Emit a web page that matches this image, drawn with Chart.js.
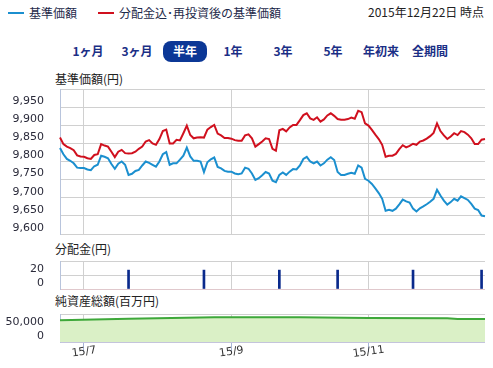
<!DOCTYPE html>
<html>
<head>
<meta charset="utf-8">
<script src="https://cdn.jsdelivr.net/npm/chart.js@4.4.0/dist/chart.umd.min.js"></script>
<style>
  body { margin: 0; width: 493px; height: 368px; background: #fff; position: relative; overflow: hidden;
         font-family: "Noto Sans CJK JP", sans-serif; font-size: 12px; }
  .t { position: absolute; white-space: nowrap; line-height: 16px; }
  .btn { position: absolute; top: 43px; width: 50px; text-align: center; font-weight: bold; color: #1b2f86; line-height: 16px; }
  .pill { position: absolute; left: 163px; top: 41px; width: 44px; height: 21px; border-radius: 8px; background: #0b3796; }
  canvas { position: absolute; left: 0; }
</style>
</head>
<body>
<div style="position:absolute;left:8px;top:12px;width:16px;height:2px;background:#1b8fcf"></div>
<div class="t" style="left:29px;top:5px;color:#1e2a4a">基準価額</div>
<div style="position:absolute;left:98px;top:12px;width:16px;height:2px;background:#d0101e"></div>
<div class="t" style="left:119px;top:5px;color:#1e2a4a">分配金込･再投資後の基準価額</div>
<div class="t" style="right:9px;top:4px;color:#222">2015年12月22日 時点</div>

<div class="pill"></div>
<div class="btn" style="left:63px">1ヶ月</div>
<div class="btn" style="left:112px">3ヶ月</div>
<div class="btn" style="left:160px;color:#fff">半年</div>
<div class="btn" style="left:208px">1年</div>
<div class="btn" style="left:258px">3年</div>
<div class="btn" style="left:308px">5年</div>
<div class="btn" style="left:356px">年初来</div>
<div class="btn" style="left:405px">全期間</div>

<div class="t" style="left:55px;top:71px;color:#222">基準価額(円)</div>
<div class="t" style="left:55px;top:241px;color:#222">分配金(円)</div>
<div class="t" style="left:55px;top:293px;color:#222">純資産総額(百万円)</div>

<canvas id="navChart" width="493" height="152" style="top:84px"></canvas>
<canvas id="distChart" width="493" height="36" style="top:256px"></canvas>
<canvas id="assetChart" width="493" height="59" style="top:309px"></canvas>

<script>
// 営業日(2015/6/22〜12/22)
const holidays = ['2015-07-20', '2015-09-21', '2015-09-22', '2015-09-23', '2015-10-12', '2015-11-03', '2015-11-23'];
const dates = [];
for (let d = new Date(Date.UTC(2015, 5, 22)); d <= new Date(Date.UTC(2015, 11, 22)); d.setUTCDate(d.getUTCDate() + 1)) {
  const s = d.toISOString().slice(0, 10);
  if (d.getUTCDay() === 0 || d.getUTCDay() === 6 || holidays.includes(s)) continue;
  dates.push(s);
}

const tickDates = ['2015-07-01', '2015-09-01', '2015-11-02'];
const tickLabels = ['15/7', '15/9', '15/11'];

// 基準価額
const nav = [
  9837, 9820, 9807, 9802, 9795, 9783, 9782, 9782, 9778, 9776,
  9787, 9791, 9816, 9813, 9809, 9793, 9780, 9794, 9800, 9791,
  9763, 9766, 9774, 9777, 9789, 9800, 9796, 9791, 9786, 9800,
  9820, 9826, 9791, 9795, 9795, 9805, 9816, 9838, 9814, 9802,
  9802, 9800, 9771, 9798, 9806, 9811, 9785, 9781, 9774, 9772,
  9772, 9767, 9765, 9767, 9783, 9780, 9767, 9749, 9754, 9762,
  9771, 9767, 9747, 9743, 9763, 9770, 9763, 9772, 9779, 9778,
  9789, 9807, 9813, 9800, 9795, 9800, 9789, 9795, 9805, 9812,
  9804, 9771, 9763, 9763, 9766, 9769, 9766, 9789, 9783, 9752,
  9747, 9738, 9726, 9713, 9697, 9664, 9667, 9664, 9670, 9682,
  9695, 9690, 9687, 9670, 9662, 9671, 9676, 9682, 9689, 9697,
  9722, 9706, 9692, 9681, 9688, 9697, 9692, 9704, 9699, 9694,
  9683, 9670, 9666, 9651, 9649
];

// 分配金込・再投資後の基準価額
const navReinvested = [
  9866, 9848, 9841, 9837, 9831, 9817, 9814, 9813, 9809, 9807,
  9818, 9820, 9848, 9844, 9841, 9827, 9812, 9827, 9832, 9823,
  9822, 9823, 9827, 9835, 9841, 9855, 9859, 9850, 9846, 9862,
  9884, 9888, 9850, 9850, 9860, 9858, 9878, 9899, 9873, 9864,
  9866, 9867, 9866, 9888, 9895, 9901, 9877, 9872, 9865, 9865,
  9863, 9859, 9857, 9857, 9872, 9875, 9864, 9841, 9848, 9855,
  9864, 9862, 9835, 9830, 9886, 9890, 9883, 9894, 9901, 9901,
  9914, 9928, 9933, 9919, 9915, 9922, 9910, 9916, 9927, 9933,
  9926, 9917, 9915, 9915, 9917, 9921, 9918, 9940, 9936, 9905,
  9899, 9887, 9874, 9862, 9846, 9813, 9816, 9816, 9821, 9834,
  9845, 9839, 9843, 9849, 9846, 9855, 9858, 9863, 9870, 9879,
  9905, 9884, 9872, 9862, 9869, 9878, 9873, 9884, 9881, 9874,
  9864, 9848, 9848, 9860, 9862
];

// 分配金
const distDates = ['2015-07-21', '2015-08-20', '2015-09-24', '2015-10-20', '2015-11-20', '2015-12-21'];
const distValues = [27, 27, 27, 27, 27, 27];

// 純資産総額(百万円)
const assetDates = ['2015-06-22', '2015-07-21', '2015-08-25', '2015-10-02', '2015-11-02', '2015-12-07', '2015-12-10', '2015-12-22'];
const assetValues = [77600, 83000, 88400, 88400, 85600, 84800, 82300, 82000];

Chart.defaults.font.family = '"DejaVu Sans", sans-serif';
Chart.defaults.font.size = 11;
Chart.defaults.color = '#2a2a3a';

const GRID = '#d0d0d0';
// 軸の幅・余白を固定して3つのグラフの位置を揃える
const fitY = (s) => { s.width = 60; s.paddingTop = 0; s.paddingBottom = 0; };
const fitX = (s) => { s.height = 0; s.paddingLeft = 0; s.paddingRight = 0; };
const monthGrid = (c) => tickDates.includes(dates[c.index]) ? GRID : 'rgba(0,0,0,0)';

const xAxis = (extra) => Object.assign({
  type: 'category',
  offset: false,
  afterFit: fitX,
  ticks: { display: false, autoSkip: false },
  border: { display: false },
  grid: { offset: false, drawTicks: false, color: monthGrid },
}, extra);

const yAxis = (min, max, count, hideTop, zeroColor) => ({
  min, max,
  afterFit: fitY,
  border: { color: '#b8c4dc' },
  grid: { drawTicks: false, color: (c) => (zeroColor && c.tick.value === 0) ? zeroColor : GRID },
  ticks: {
    count,
    autoSkip: false,
    padding: 16,
    labelOffset: -6,
    callback: (v) => v === hideTop ? '' : v.toLocaleString('en-US'),
  },
});

const base = {
  responsive: false,
  animation: false,
  events: [],
  plugins: { legend: { display: false }, tooltip: { enabled: false } },
};

new Chart(document.getElementById('navChart'), {
  type: 'line',
  data: {
    labels: dates,
    datasets: [
      { data: navReinvested, borderColor: '#d0101e', borderWidth: 2, pointRadius: 0, tension: 0 },
      { data: nav, borderColor: '#1b8fcf', borderWidth: 2, pointRadius: 0, tension: 0 },
    ],
  },
  options: {
    ...base,
    layout: { padding: { top: 5, bottom: 2, right: 8, left: 0 } },
    scales: { x: xAxis(), y: yAxis(9600, 10000, 9, 10000) },
  },
});

new Chart(document.getElementById('distChart'), {
  type: 'bar',
  data: {
    labels: dates,
    datasets: [{
      data: distDates.map((d, i) => ({ x: d, y: distValues[i] })),
      backgroundColor: '#0a2a8c',
      barThickness: 2,
    }],
  },
  options: {
    ...base,
    layout: { padding: { top: 5, bottom: 3, right: 8, left: 0 } },
    scales: { x: xAxis(), y: yAxis(0, 40, 3, 40, '#e0c8cc') },
  },
});

const monthLabels = {
  id: 'monthLabels',
  afterDraw(chart) {
    const { ctx, chartArea } = chart;
    const x = chart.scales.x;
    ctx.save();
    ctx.font = '11px "DejaVu Sans"';
    ctx.fillStyle = '#333';
    ctx.textAlign = 'center';
    ctx.textBaseline = 'middle';
    tickDates.forEach((d, i) => {
      ctx.save();
      ctx.translate(x.getPixelForValue(dates.indexOf(d)), chartArea.bottom + 10);
      ctx.rotate(-0.14);
      ctx.fillText(tickLabels[i], 0, 0);
      ctx.restore();
    });
    ctx.restore();
  },
};

new Chart(document.getElementById('assetChart'), {
  type: 'line',
  data: {
    labels: dates,
    datasets: [{
      data: assetDates.map((d, i) => ({ x: d, y: assetValues[i] })),
      borderColor: '#3ea83a',
      borderWidth: 2,
      backgroundColor: '#daf0c6',
      fill: 'origin',
      pointRadius: 0,
      tension: 0,
    }],
  },
  options: {
    ...base,
    layout: { padding: { top: 5, bottom: 26, right: 8, left: 0 } },
    scales: {
      x: xAxis({
        grid: {
          offset: false, drawTicks: true, tickLength: 10, color: monthGrid,
          tickColor: (c) => tickDates.includes(dates[c.index]) ? '#a8b6d6' : 'rgba(0,0,0,0)',
        },
      }),
      y: yAxis(0, 100000, 3, 100000, '#c4c4dc'),
    },
  },
  plugins: [monthLabels],
});
</script>
</body>
</html>
